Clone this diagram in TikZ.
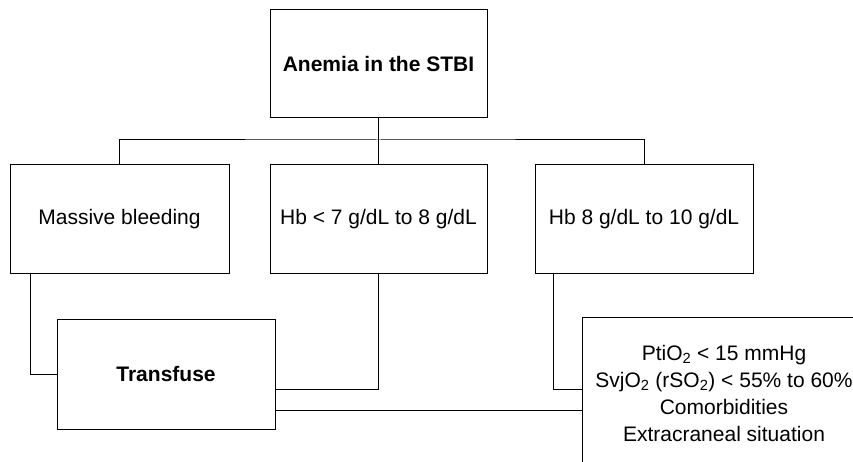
\documentclass[tikz,border=0pt]{standalone}
\usepackage{fontspec}
\setmainfont{Liberation Sans}
\begin{document}
\begin{tikzpicture}[x=1pt,y=-1pt,line width=1pt,
	box/.style={draw,line width=1pt,inner sep=2pt,font=\fontsize{21}{27}\selectfont,align=center},
	link/.style={line width=1pt}]
	\useasboundingbox (0,0) rectangle (853,462);
	\clip (0,0) rectangle (853,462);
	\node[box,minimum width=217pt,minimum height=108pt] (anemia) at (378.5,64) {\textbf{Anemia in the STBI}};%top
	\node[box,minimum width=219pt,minimum height=108pt] (bleed) at (119.5,219) {Massive bleeding};
	\node[box,minimum width=217pt,minimum height=108pt] (hblow) at (378.5,219) {Hb < 7 g/dL to 8 g/dL};
	\node[box,minimum width=218pt,minimum height=108pt] (hbhigh) at (644,219) {Hb 8 g/dL to 10 g/dL};
	\node[box,minimum width=218pt,minimum height=110pt] (transfuse) at (166,374) {\textbf{Transfuse}};
	\node[box,minimum width=284pt,minimum height=152pt] (criteria) at (724,393) {PtiO\textsubscript{2} < 15 mmHg\\SvjO\textsubscript{2} (rSO\textsubscript{2}) < 55\% to 60\%\\Comorbidities\\Extracraneal situation};
	\coordinate (split) at (378.5,140);
	\draw[link] (anemia) -- (split) ;%stem
	\draw[link] (bleed.north) |- (split) -| (hbhigh.north) ;%bar
	\draw[link] (split) -- (hblow) ;
	\draw[link] ([xshift=21pt]bleed.south west) |- (transfuse.west) ;
	\draw[link] (hblow.south) |- ([yshift=-15pt]transfuse.east) ;
	\draw[link] ([xshift=19pt]hbhigh.south west) |- ([yshift=4pt]criteria.west) ;
	\draw[link] ([yshift=-36pt]transfuse.east) -- ([yshift=-36pt]transfuse.east -| criteria.west) ;
\end{tikzpicture}
\end{document}
